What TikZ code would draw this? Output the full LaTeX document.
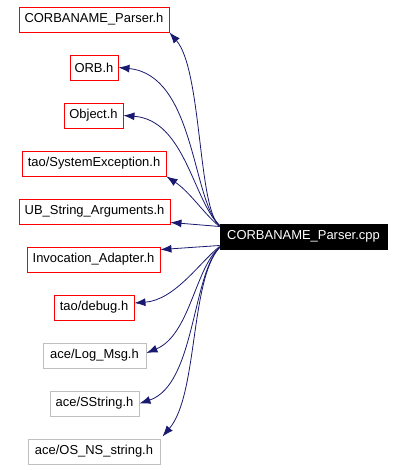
\documentclass[tikz,border=0pt]{standalone}
\usepackage{fontspec}
\setmainfont{Liberation Sans}
\usetikzlibrary{arrows.meta}
\definecolor{edgeblue}{RGB}{25,25,112}
\definecolor{greybox}{RGB}{191,191,191}
\begin{document}
\begin{tikzpicture}[x=1bp,y=-1bp,
  box/.style={draw=red,line width=0.9bp,minimum height=25bp,inner sep=0pt,font=\fontsize{13}{15}\selectfont},
  gbox/.style={box,draw=greybox},
  edge/.style={draw=edgeblue,line width=0.8bp,-{Latex[length=11bp,width=8bp]}}]
\useasboundingbox (0,0) rectangle (403,470);
\node[box,minimum width=150bp] (hp) at (94,19.5) {CORBANAME\_Parser.h};
\node[box,minimum width=48bp] (orb) at (94,67.5) {ORB.h};
\node[box,minimum width=59bp] (obj) at (93.5,115.5) {Object.h};
\node[box,minimum width=144bp] (sysex) at (94,163.5) {tao/SystemException.h};
\node[box,minimum width=151bp] (ub) at (94.5,211.5) {UB\_String\_Arguments.h};
\node[box,minimum width=133bp] (inv) at (93.5,259.5) {Invocation\_Adapter.h};
\node[box,minimum width=80bp] (dbg) at (94,307.5) {tao/debug.h};
\node[gbox,minimum width=103bp] (log) at (94.5,355.5) {ace/Log\_Msg.h};
\node[gbox,minimum width=89bp] (ss) at (94.5,403.5) {ace/SString.h};
\node[gbox,minimum width=132bp] (os) at (94,451.5) {ace/OS\_NS\_string.h};
\node[box,draw=black,fill=black,text=white,minimum width=167bp] (cpp) at (303.5,236.5) {CORBANAME\_Parser.cpp};

\draw[edge] ([yshift=11bp]cpp.west) .. controls (198,210) and (202,70) .. (hp.south east);
\draw[edge] ([yshift=11bp]cpp.west) .. controls (192,200) and (195,75) .. (orb.east);
\draw[edge] ([yshift=11bp]cpp.west) .. controls (193,200) and (185,120) .. (obj.east);
\draw[edge] ([yshift=10bp]cpp.west) .. controls (205,215) and (190,192) .. (sysex.south east);
\draw[edge] ([yshift=10bp]cpp.west) -- ([yshift=2bp]ub.south east);
\draw[edge] ([yshift=-9bp]cpp.west) -- ([yshift=-3bp]inv.north east);
\draw[edge] ([yshift=-10bp]cpp.west) .. controls (200,262) and (175,300) .. ([yshift=4.5bp]dbg.east);
\draw[edge] ([yshift=-11bp]cpp.west) .. controls (195,268) and (190,335) .. ([yshift=2.5bp]log.east);
\draw[edge] ([yshift=-11bp]cpp.west) .. controls (192,275) and (195,385) .. (ss.east);
\draw[edge] ([yshift=-11bp]cpp.west) .. controls (190,280) and (198,395) .. ([xshift=2bp,yshift=2bp]os.north east);
\end{tikzpicture}
\end{document}
